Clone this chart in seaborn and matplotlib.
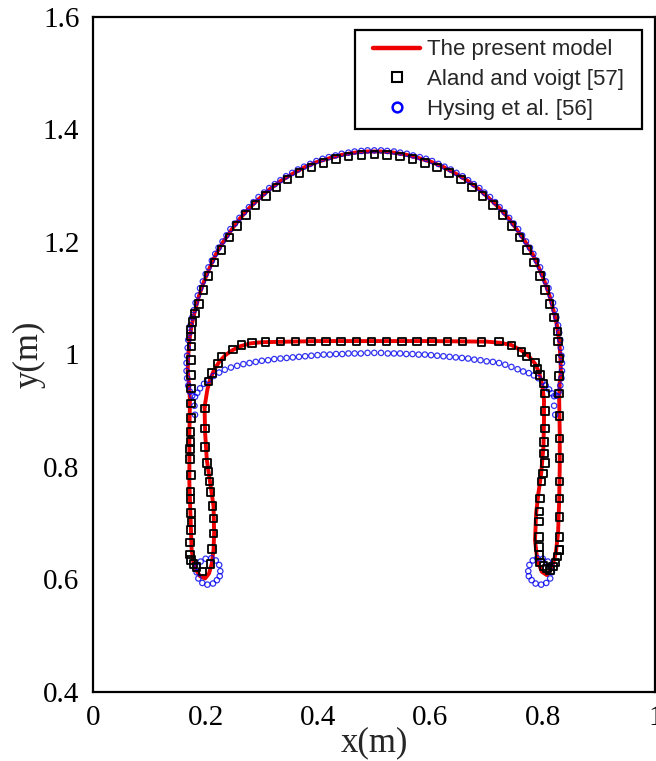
import matplotlib
matplotlib.use("Agg")
import matplotlib.pyplot as plt
import seaborn as sns
import pandas as pd
from matplotlib.lines import Line2D
from matplotlib.legend_handler import HandlerLine2D

# ---------------- data ----------------
# The present model (closed interface contour)
model_x = [0.198, 0.199, 0.202, 0.208, 0.214, 0.215, 0.214, 0.211, 0.206, 0.199, 0.190, 0.183,
           0.178, 0.175, 0.173, 0.171, 0.171, 0.172, 0.170,
           0.168, 0.169, 0.171, 0.175, 0.181, 0.188, 0.197, 0.207, 0.218, 0.231, 0.246, 0.261,
           0.278, 0.296, 0.314, 0.334, 0.354, 0.376, 0.397, 0.420, 0.442, 0.465, 0.488, 0.512,
           0.535, 0.558, 0.580, 0.603, 0.624, 0.646, 0.666, 0.686, 0.704, 0.722, 0.739, 0.754,
           0.769, 0.782, 0.793, 0.803, 0.812, 0.819, 0.825, 0.829, 0.831, 0.832,
           0.830, 0.829, 0.830, 0.830, 0.829, 0.827, 0.823, 0.816, 0.807, 0.798, 0.790, 0.786,
           0.788, 0.792, 0.797, 0.801, 0.802, 0.802, 0.799, 0.793, 0.786, 0.775, 0.762, 0.744,
           0.724, 0.700, 0.600, 0.500, 0.400, 0.300, 0.280, 0.262, 0.248, 0.235, 0.224, 0.215,
           0.208, 0.203, 0.200, 0.198]
model_y = [0.906, 0.860, 0.812, 0.771, 0.729, 0.682, 0.652, 0.628, 0.610, 0.601, 0.605, 0.616,
           0.630, 0.652, 0.711, 0.770, 0.859, 0.918, 0.950,
           0.970, 0.997, 1.024, 1.051, 1.077, 1.103, 1.129, 1.153, 1.177, 1.199, 1.221, 1.241,
           1.260, 1.277, 1.293, 1.308, 1.320, 1.332, 1.341, 1.348, 1.354, 1.358, 1.360, 1.360,
           1.358, 1.354, 1.348, 1.341, 1.332, 1.320, 1.308, 1.293, 1.277, 1.260, 1.241, 1.221,
           1.199, 1.177, 1.153, 1.129, 1.103, 1.077, 1.051, 1.024, 0.997, 0.970,
           0.950, 0.918, 0.859, 0.800, 0.740, 0.681, 0.646, 0.619, 0.607, 0.613, 0.634, 0.669,
           0.717, 0.752, 0.788, 0.835, 0.883, 0.918, 0.945, 0.968, 0.983, 0.996, 1.006, 1.016,
           1.020, 1.022, 1.023, 1.023, 1.023, 1.021, 1.019, 1.014, 1.007, 0.998, 0.986, 0.972,
           0.955, 0.937, 0.918, 0.906]

# Aland and Voigt [57]
aland_x = [
    # cap
    0.188, 0.196, 0.205, 0.216, 0.228, 0.242, 0.256, 0.272, 0.289, 0.307, 0.326, 0.346, 0.367,
    0.388, 0.410, 0.432, 0.454, 0.477, 0.500, 0.523, 0.546, 0.568, 0.590, 0.612, 0.633, 0.654,
    0.674, 0.693, 0.711, 0.728, 0.744, 0.758, 0.772, 0.784, 0.795, 0.804, 0.812,
    # right outer skirt
    0.820, 0.826, 0.827, 0.830, 0.829, 0.829, 0.830, 0.830, 0.830, 0.830, 0.830, 0.830, 0.830,
    0.830, 0.830, 0.826, 0.822, 0.818,
    # right inner skirt and corner
    0.813, 0.807, 0.801, 0.795, 0.794, 0.793, 0.793, 0.793, 0.794, 0.795, 0.798, 0.800, 0.804,
    0.802, 0.802, 0.804, 0.804, 0.804, 0.801, 0.795, 0.790, 0.786, 0.771, 0.762, 0.744, 0.722,
    # flat top
    0.691, 0.657, 0.630, 0.603, 0.576, 0.549, 0.522, 0.495, 0.468, 0.441, 0.414, 0.387, 0.360,
    0.333, 0.306,
    # left corner and inner skirt
    0.282, 0.264, 0.249, 0.228, 0.222, 0.211, 0.205, 0.199, 0.199, 0.199, 0.202, 0.205, 0.207,
    0.209, 0.212, 0.214, 0.214, 0.211, 0.209,
    # left outer skirt
    0.194, 0.184, 0.178, 0.174, 0.172, 0.172, 0.174, 0.175, 0.174, 0.173, 0.173, 0.174, 0.172,
    0.172, 0.173, 0.173, 0.174, 0.174, 0.174, 0.174, 0.174, 0.175, 0.174, 0.174, 0.177, 0.181]
aland_y = [
    1.089, 1.114, 1.139, 1.163, 1.185, 1.207, 1.228, 1.247, 1.265, 1.281, 1.296, 1.310, 1.322,
    1.332, 1.340, 1.347, 1.351, 1.354, 1.355, 1.354, 1.351, 1.347, 1.340, 1.332, 1.322, 1.310,
    1.296, 1.281, 1.265, 1.247, 1.228, 1.207, 1.185, 1.163, 1.139, 1.114, 1.089,
    1.065, 1.040, 1.022, 0.992, 0.961, 0.930, 0.890, 0.850, 0.815, 0.773, 0.743, 0.710, 0.675,
    0.652, 0.652, 0.640, 0.629, 0.622,
    0.616, 0.619, 0.623, 0.629, 0.643, 0.657, 0.675, 0.702, 0.720, 0.743, 0.773, 0.788, 0.806,
    0.823, 0.844, 0.868, 0.899, 0.930, 0.948, 0.963, 0.973, 0.985, 0.996, 1.004, 1.015, 1.022,
    1.021, 1.022, 1.022, 1.022, 1.022, 1.022, 1.022, 1.022, 1.022, 1.022, 1.022, 1.022, 1.022,
    1.022, 1.021,
    1.020, 1.016, 1.008, 0.996, 0.983, 0.966, 0.951, 0.903, 0.868, 0.835, 0.806, 0.791, 0.773,
    0.755, 0.730, 0.708, 0.681, 0.653, 0.627,
    0.613, 0.621, 0.627, 0.634, 0.644, 0.665, 0.687, 0.701, 0.717, 0.742, 0.756, 0.785, 0.813,
    0.831, 0.844, 0.861, 0.886, 0.912, 0.939, 0.963, 0.989, 1.013, 1.031, 1.044, 1.057, 1.072]

# Hysing et al. [56]
hysing_x = [
    # left outer tail + cap
    0.176, 0.172, 0.169, 0.167,
    0.166, 0.166, 0.167, 0.168, 0.169, 0.171, 0.173, 0.176, 0.179, 0.182, 0.186, 0.190, 0.195,
    0.200, 0.205, 0.211, 0.217, 0.223, 0.230, 0.237, 0.244, 0.252, 0.260, 0.268, 0.277, 0.285,
    0.294, 0.304, 0.313, 0.323, 0.333, 0.343, 0.354, 0.364, 0.375, 0.386, 0.397, 0.408, 0.419,
    0.431, 0.442, 0.454, 0.465, 0.477, 0.488, 0.500, 0.512, 0.523, 0.535, 0.546, 0.558, 0.569,
    0.581, 0.592, 0.603, 0.614, 0.625, 0.636, 0.646, 0.657, 0.667, 0.677, 0.687, 0.696, 0.706,
    0.715, 0.723, 0.732, 0.740, 0.748, 0.756, 0.763, 0.770, 0.777, 0.783, 0.789, 0.795, 0.800,
    0.805, 0.810, 0.814, 0.818, 0.821, 0.824, 0.827, 0.829, 0.831, 0.832, 0.833, 0.834, 0.834,
    0.833, 0.831, 0.828, 0.824,
    # inner top (right to left)
    0.820, 0.816, 0.811, 0.805, 0.799, 0.792, 0.784, 0.775, 0.765, 0.755, 0.744, 0.733, 0.722,
    0.711, 0.700, 0.689, 0.678, 0.667, 0.656, 0.645, 0.634, 0.623, 0.612, 0.601, 0.590, 0.579,
    0.568, 0.557, 0.546, 0.535, 0.524, 0.512, 0.500, 0.488, 0.476, 0.465, 0.454, 0.443, 0.432,
    0.421, 0.410, 0.399, 0.388, 0.377, 0.366, 0.355, 0.344, 0.333, 0.322, 0.311, 0.300, 0.289,
    0.278, 0.267, 0.256, 0.245, 0.234, 0.224, 0.214, 0.205, 0.197, 0.190, 0.185, 0.181,
    # detached bits
    0.180, 0.181, 0.820, 0.822,
    # left ring
    0.226, 0.224, 0.218, 0.210, 0.200, 0.191, 0.185, 0.184, 0.187, 0.194, 0.203, 0.213, 0.220,
    0.225,
    # right ring
    0.774, 0.776, 0.782, 0.790, 0.800, 0.809, 0.815, 0.816, 0.813, 0.806, 0.797, 0.787, 0.780,
    0.775]
hysing_y = [
    0.926, 0.933, 0.944, 0.957,
    0.970, 0.984, 0.997, 1.011, 1.025, 1.038, 1.051, 1.065, 1.078, 1.091, 1.104, 1.117, 1.129,
    1.142, 1.154, 1.166, 1.178, 1.189, 1.200, 1.211, 1.222, 1.232, 1.242, 1.252, 1.261, 1.270,
    1.279, 1.287, 1.295, 1.302, 1.309, 1.316, 1.322, 1.328, 1.333, 1.338, 1.343, 1.347, 1.350,
    1.353, 1.356, 1.358, 1.360, 1.361, 1.362, 1.362, 1.362, 1.361, 1.360, 1.358, 1.356, 1.353,
    1.350, 1.347, 1.343, 1.338, 1.333, 1.328, 1.322, 1.316, 1.309, 1.302, 1.295, 1.287, 1.279,
    1.270, 1.261, 1.252, 1.242, 1.232, 1.222, 1.211, 1.200, 1.189, 1.178, 1.166, 1.154, 1.142,
    1.129, 1.117, 1.104, 1.091, 1.078, 1.065, 1.051, 1.038, 1.025, 1.011, 0.997, 0.984, 0.970,
    0.957, 0.944, 0.933, 0.926,
    0.925, 0.930, 0.937, 0.944, 0.951, 0.957, 0.962, 0.966, 0.969, 0.973, 0.977, 0.981, 0.984,
    0.986, 0.987, 0.989, 0.990, 0.992, 0.993, 0.994, 0.995, 0.996, 0.997, 0.998, 0.999, 0.999,
    1.000, 1.000, 1.001, 1.001, 1.001, 1.002, 1.002, 1.002, 1.001, 1.001, 1.001, 1.000, 1.000,
    0.999, 0.999, 0.998, 0.997, 0.996, 0.995, 0.994, 0.993, 0.992, 0.991, 0.989, 0.988, 0.986,
    0.984, 0.982, 0.979, 0.976, 0.972, 0.967, 0.961, 0.954, 0.947, 0.939, 0.931, 0.924,
    0.908, 0.892, 0.908, 0.892,
    0.614, 0.625, 0.633, 0.637, 0.636, 0.631, 0.622, 0.612, 0.601, 0.593, 0.590, 0.592, 0.598,
    0.605,
    0.614, 0.625, 0.633, 0.637, 0.636, 0.631, 0.622, 0.612, 0.601, 0.593, 0.590, 0.592, 0.598,
    0.605]

x_ticks = [0, 0.2, 0.4, 0.6, 0.8, 1]
x_tick_labels = ["0", "0.2", "0.4", "0.6", "0.8", "1"]
y_ticks = [0.4, 0.6, 0.8, 1.0, 1.2, 1.4, 1.6]
y_tick_labels = ["0.4", "0.6", "0.8", "1", "1.2", "1.4", "1.6"]
legend_labels = ["The present model", "Aland and voigt [57]", "Hysing et al. [56]"]

# ---------------- plotting ----------------
sns.set_style("white")
plt.rcParams["font.family"] = ["Liberation Serif", "DejaVu Serif"]

fig = plt.figure(figsize=(6.56, 7.61), dpi=100)
ax = fig.add_axes([0.1422, 0.0913, 0.8567, 0.887])

RED = "#ee0000"
BLUE = "#0000ee"

df_model = pd.DataFrame({"x": model_x, "y": model_y})
df_aland = pd.DataFrame({"x": aland_x, "y": aland_y})
df_hys = pd.DataFrame({"x": hysing_x, "y": hysing_y})

sns.lineplot(data=df_model, x="x", y="y", sort=False, estimator=None, color=RED,
             linewidth=2.8, ax=ax, zorder=2)
sns.scatterplot(data=df_hys, x="x", y="y", marker="o", s=15, facecolors="none",
                edgecolors=BLUE, linewidths=0.9, ax=ax, zorder=3, alpha=0.8)
sns.scatterplot(data=df_aland, x="x", y="y", marker="s", s=29, facecolors="none",
                edgecolors="black", linewidths=1.3, ax=ax, zorder=4)

ax.set_xlim(0, 1)
ax.set_ylim(0.4, 1.6)
ax.set_xticks(x_ticks)
ax.set_xticklabels(x_tick_labels)
ax.set_yticks(y_ticks)
ax.set_yticklabels(y_tick_labels)
ax.tick_params(axis="both", direction="in", length=8, width=1.6, labelsize=21,
               colors="black", pad=10)
ax.tick_params(top=False, right=False)
for sp in ax.spines.values():
    sp.set_visible(True)
    sp.set_linewidth(1.6)
    sp.set_color("black")
ax.set_xlabel("x(m)", fontsize=25, labelpad=-4)
ax.set_ylabel("y(m)", fontsize=25, labelpad=-2)

handles = [
    Line2D([], [], color=RED, linewidth=3.2),
    Line2D([], [], linestyle="none", marker="s", markersize=6.5, markerfacecolor="none",
           markeredgecolor="black", markeredgewidth=1.5),
    Line2D([], [], linestyle="none", marker="o", markersize=7, markerfacecolor="none",
           markeredgecolor="#0000ff", markeredgewidth=1.8),
]
hmap = {h: HandlerLine2D(xpad=0.4) for h in handles}
leg = ax.legend(handles, legend_labels, loc="upper right", mode="expand",
                bbox_to_anchor=(0.4657, 0.0, 0.5101, 0.980), borderaxespad=0,
                frameon=True, fancybox=False, framealpha=1, edgecolor="black",
                prop={"family": ["Liberation Sans", "DejaVu Sans"], "size": 16},
                handlelength=2.5, handletextpad=0.3, borderpad=0.42, labelspacing=0.4,
                handler_map=hmap)
leg.get_frame().set_linewidth(1.6)

fig.savefig("out.png", dpi=100)
